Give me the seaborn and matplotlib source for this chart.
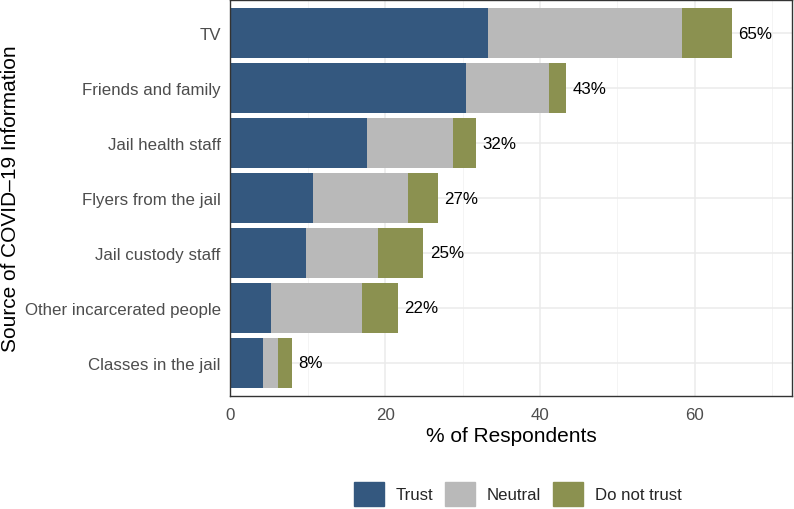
import pandas as pd
import matplotlib
matplotlib.use("Agg")
import matplotlib.pyplot as plt
import matplotlib.patches as mpatches
import seaborn as sns

# ---- data (percent of respondents) ----
sources = ["TV", "Friends and family", "Jail health staff", "Flyers from the jail",
           "Jail custody staff", "Other incarcerated people", "Classes in the jail"]
trust = [33.3, 30.4, 17.7, 10.6, 9.7, 5.2, 4.2]
neutral = [25.1, 10.7, 11.1, 12.4, 9.4, 11.8, 2.0]
not_trust = [6.4, 2.2, 2.9, 3.8, 5.8, 4.6, 1.7]

levels = ["Trust", "Neutral", "Do not trust"]
colors = {"Trust": "#34587f", "Neutral": "#b9b9b9", "Do not trust": "#8b9150"}

df = pd.DataFrame({"source": sources, "Trust": trust, "Neutral": neutral,
                   "Do not trust": not_trust})
# cumulative ends for stacking
df["cum_trust"] = df["Trust"]
df["cum_neutral"] = df["Trust"] + df["Neutral"]
df["total"] = df["cum_neutral"] + df["Do not trust"]

sns.set_theme(style="whitegrid")
plt.rcParams["font.family"] = ["Liberation Sans", "DejaVu Sans"]

fig = plt.figure(figsize=(7.94, 5.10), dpi=100)
ax = fig.add_axes([0.2903, 0.2216, 0.7066, 0.7764])

# draw longest first, shorter segments on top -> stacked look
for col, lvl in [("total", "Do not trust"), ("cum_neutral", "Neutral"), ("cum_trust", "Trust")]:
    sns.barplot(data=df, x=col, y="source", order=sources, color=colors[lvl],
                saturation=1, width=0.9, ax=ax, orient="h", linewidth=0)

for i, tot in enumerate(df["total"]):
    ax.text(tot + 0.85, i, f"{tot:.0f}%", va="center", ha="left", fontsize=12.2, color="black")

ax.set_xlim(0, 72.5)
ax.set_ylim(6.6, -0.6)
ax.set_xticks([0, 20, 40, 60])
ax.set_xticks([10, 30, 50, 70], minor=True)
ax.grid(True, which="major", color="#ebebeb", linewidth=1.1)
ax.grid(True, which="minor", axis="x", color="#f2f2f2", linewidth=0.6)
ax.set_axisbelow(True)
for s in ax.spines.values():
    s.set_color("#333333")
    s.set_linewidth(1.0)
ax.tick_params(axis="both", which="major", length=4, width=1, color="#333333",
               labelsize=12.2, labelcolor="#4d4d4d", pad=3)
ax.tick_params(axis="x", which="major", pad=4)
ax.tick_params(axis="both", which="minor", length=0)

ax.set_xlabel("% of Respondents", fontsize=15, color="black", labelpad=3)
ax.set_ylabel("Source of COVID\u201319 Information", fontsize=15, color="black")
ax.yaxis.set_label_coords(-0.3745, 0.5)

handles = [mpatches.Patch(color=colors[l], label=l) for l in levels]
fig.legend(handles=handles, loc="center", bbox_to_anchor=(0.652, 0.0294), ncol=3,
           frameon=False, fontsize=12.1, handlelength=1.78, handleheight=1.78,
           handletextpad=0.71, columnspacing=0.71, borderpad=0, borderaxespad=0)

fig.savefig("out.png", dpi=100)
